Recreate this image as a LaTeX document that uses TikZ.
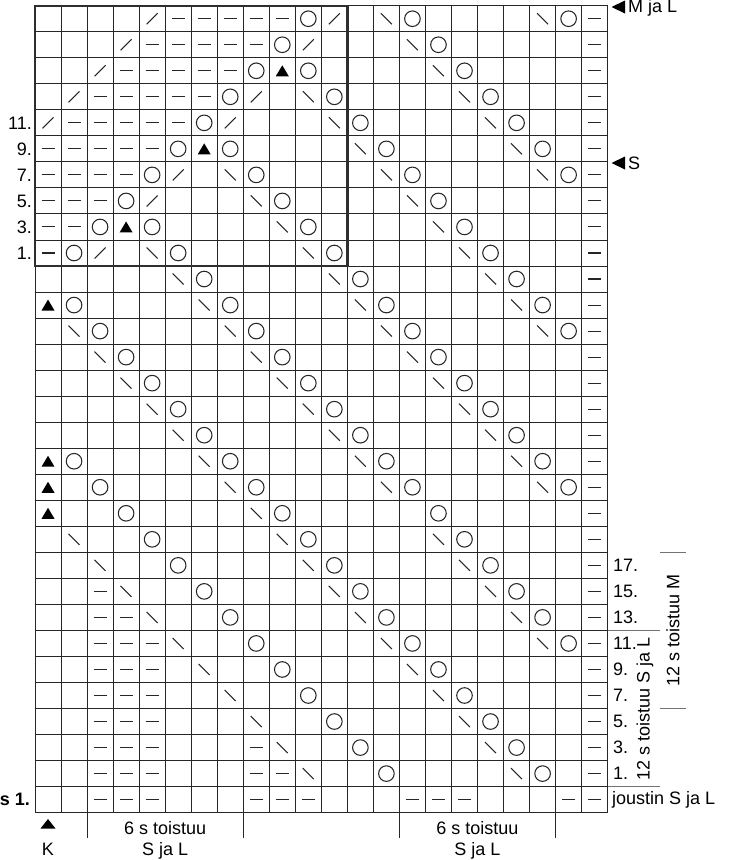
\documentclass[tikz,border=0pt]{standalone}
\usepackage{fontspec}
\setmainfont{Liberation Sans}
\begin{document}
\begin{tikzpicture}[x=1pt,y=-1pt,
  lbl/.style={font=\fontsize{18}{20}\selectfont, inner sep=0pt},
  gridline/.style={line width=0.9pt, black!85},
  sym/.style={line width=1.05pt, black!85},
  brk/.style={line width=1pt, black!55}]
\useasboundingbox (0,0) rectangle (736,860);
\begin{scope}[shift={(35,5.7)}, x=26.03pt, y=-26.03pt]
  % grid
  \foreach \c in {0,...,22} \draw[gridline] (\c,0) -- (\c,31);
  \foreach \r in {0,...,31} \draw[gridline] (0,\r) -- (22,\r);
  % yarn overs
  \foreach \c/\r in {10/0,14/0,20/0, 9/1,15/1, 8/2,10/2,16/2, 7/3,11/3,17/3,
     6/4,12/4,18/4, 5/5,7/5,13/5,19/5, 4/6,8/6,14/6,20/6, 3/7,9/7,15/7,
     2/8,4/8,10/8,16/8, 1/9,5/9,11/9,17/9, 6/10,12/10,18/10,
     1/11,7/11,13/11,19/11, 2/12,8/12,14/12,20/12, 3/13,9/13,15/13,
     4/14,10/14,16/14, 5/15,11/15,17/15, 6/16,12/16,18/16,
     1/17,7/17,13/17,19/17, 2/18,8/18,14/18,20/18, 3/19,9/19,15/19,
     4/20,10/20,16/20, 5/21,11/21,17/21, 6/22,12/22,18/22,
     7/23,13/23,19/23, 8/24,14/24,20/24, 9/25,15/25, 10/26,16/26,
     11/27,17/27, 12/28,18/28, 13/29,19/29}
    \draw[sym] (\c+0.5,\r+0.5) circle[radius=7.8pt];
  % backslashes
  \foreach \c/\r in {13/0,19/0, 14/1, 15/2, 10/3,16/3, 11/4,17/4, 12/5,18/5,
     7/6,13/6,19/6, 8/7,14/7, 9/8,15/8, 4/9,10/9,16/9, 5/10,11/10,17/10,
     6/11,12/11,18/11, 1/12,7/12,13/12,19/12, 2/13,8/13,14/13,
     3/14,9/14,15/14, 4/15,10/15,16/15, 5/16,11/16,17/16,
     6/17,12/17,18/17, 7/18,13/18,19/18, 8/19,
     1/20,9/20,15/20, 2/21,10/21,16/21, 3/22,11/22,17/22,
     4/23,12/23,18/23, 5/24,13/24,19/24, 6/25,14/25, 7/26,15/26,
     8/27,16/27, 9/28,17/28, 10/29,18/29}
    \draw[sym,shift={(\c+0.5,\r+0.5)}] (-5.5pt,5.5pt) -- (5.5pt,-5.5pt);
  % slashes
  \foreach \c/\r in {4/0,11/0, 3/1,10/1, 2/2, 1/3,8/3, 0/4,7/4, 5/6, 4/7, 2/9}
    \draw[sym,shift={(\c+0.5,\r+0.5)}] (-5.5pt,-5.5pt) -- (5.5pt,5.5pt);
  % triangles
  \foreach \c/\r in {9/2, 6/5, 3/8, 0/11, 0/17, 0/18, 0/19}
    \fill[black,shift={(\c+0.5,\r+0.5)}] (-6.5pt,-5.5pt) -- (6.5pt,-5.5pt) -- (0pt,5.5pt) -- cycle;
  % purl dashes
  \foreach \r/\a/\b in {0/5/9,1/4/8,2/3/7,3/2/6,4/1/5,5/0/4,6/0/3,7/0/2,8/0/1,9/0/0,
     22/2/2,23/2/3,24/2/4,25/2/4,26/2/4,27/2/4,28/2/4,29/2/4,30/2/4,
     28/8/8,29/8/9,30/8/10,30/14/16,30/20/21}
    \foreach \c in {\a,...,\b}
      \draw[sym,shift={(\c+0.5,\r+0.5)}] (-6.5pt,0pt) -- (6.5pt,0pt);
  \foreach \r in {0,...,29}
    \draw[sym,shift={(21.5,\r+0.5)}] (-6.5pt,0pt) -- (6.5pt,0pt);
  % thick frame
  \draw[line width=2.4pt, black!82] (0,0) rectangle (12,10);
\end{scope}

% left row numbers
\node[lbl,anchor=east] (l11) at (32,{5.7+4.5*26.03}) {11.};
\node[lbl,anchor=east] (l9) at (32,{5.7+5.5*26.03}) {9.};
\node[lbl,anchor=east] (l7) at (32,{5.7+6.5*26.03}) {7.};
\node[lbl,anchor=east] (l5) at (32,{5.7+7.5*26.03}) {5.};
\node[lbl,anchor=east] (l3) at (32,{5.7+8.5*26.03}) {3.};
\node[lbl,anchor=east] (l1) at (32,{5.7+9.5*26.03}) {1.};
\node[lbl,anchor=east,font=\fontsize{18}{20}\selectfont\bfseries] (ls1) at (30,{5.7+30.5*26.03}) {s 1.};

% right row numbers
\node[lbl,anchor=west] (r17) at (613,{5.7+21.5*26.03}) {17.};
\node[lbl,anchor=west] (r15) at (613,{5.7+22.5*26.03}) {15.};
\node[lbl,anchor=west] (r13) at (613,{5.7+23.5*26.03}) {13.};
\node[lbl,anchor=west] (r11) at (613,{5.7+24.5*26.03}) {11.};
\node[lbl,anchor=west] (r9) at (613,{5.7+25.5*26.03}) {9.};
\node[lbl,anchor=west] (r7) at (613,{5.7+26.5*26.03}) {7.};
\node[lbl,anchor=west] (r5) at (613,{5.7+27.5*26.03}) {5.};
\node[lbl,anchor=west] (r3) at (613,{5.7+28.5*26.03}) {3.};
\node[lbl,anchor=west] (r1) at (613,{5.7+29.5*26.03}) {1.};
\node[lbl,anchor=west] (rj) at (612,{5.7+30.5*26.03}) {joustin S ja L};

% size markers
\fill[black] (611.5,7) -- (625,0.5) -- (625,13.5) -- cycle;
\node[lbl,anchor=west] (mjal) at (628,8) {M ja L};
\fill[black] (611.5,163) -- (625,156.5) -- (625,169.5) -- cycle;
\node[lbl,anchor=west] (ms) at (628,163.5) {S};

% brackets
\draw[brk] (608,630.5) -- (660,630.5);
\draw[brk] (608,786.6) -- (660,786.6);
\draw[brk] (660,552.5) -- (686,552.5);
\draw[brk] (660,708.6) -- (686,708.6);
\node[lbl,rotate=90] (tsl) at (645,708.6) {12 s toistuu S ja L};
\node[lbl,rotate=90] (tm) at (673,630.5) {12 s toistuu M};

% bottom
\fill[black] (40.5,828.5) -- (55.5,828.5) -- (48,819) -- cycle;
\node[lbl,anchor=base] (k) at (48,855) {K};
\draw[gridline] (87.06,812.6) -- (87.06,838);
\draw[gridline] (243.24,812.6) -- (243.24,838);
\draw[gridline] (399.42,812.6) -- (399.42,838);
\draw[gridline] (555.6,812.6) -- (555.6,838);
\node[lbl,anchor=base] (rep1a) at (165.15,834) {6 s toistuu};
\node[lbl,anchor=base] (rep1b) at (165.15,855) {S ja L};
\node[lbl,anchor=base] (rep2a) at (477.5,834) {6 s toistuu};
\node[lbl,anchor=base] (rep2b) at (477.5,855) {S ja L};
\end{tikzpicture}
\end{document}
